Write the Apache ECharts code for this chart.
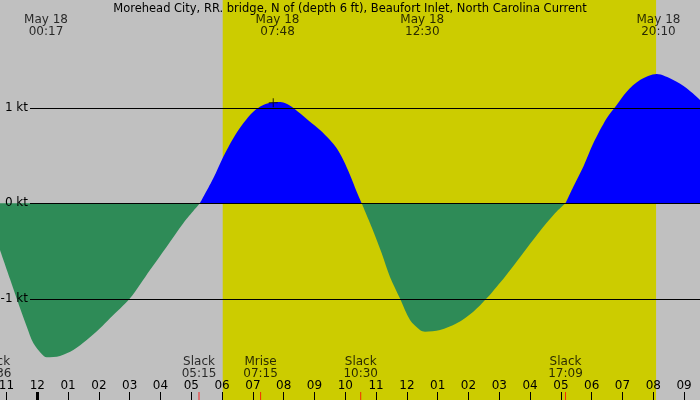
<!DOCTYPE html>
<html>
<head>
<meta charset="utf-8">
<script src="https://cdn.jsdelivr.net/npm/echarts@6/dist/echarts.min.js"></script>
<style>
  html, body { margin: 0; padding: 0; background: #c0c0c0; }
  #chart { width: 700px; height: 400px; }
</style>
</head>
<body>
<div id="chart"></div>
<script>
const titleText = 'Morehead City, RR. bridge, N of (depth 6 ft), Beaufort Inlet, North Carolina Current';

// hours from midnight May 18, current speed in knots (flood +, ebb -)
const hours = [
  -1.211, -0.886, -0.669, -0.562, -0.344, -0.130, 0.143, 0.305, 0.737, 1.169, 1.604,
  2.036, 2.360, 3.010, 3.659, 4.201, 4.740, 5.28,
  5.714, 6.039, 6.364, 6.688, 7.013, 7.338, 7.662, 7.80, 7.987, 8.260, 8.529, 8.854, 9.179,
  9.503, 9.721, 9.935, 10.153, 10.370, 10.532,
  10.857, 11.182, 11.451, 11.776, 12.101, 12.425, 12.588, 13.075, 13.617, 14.156, 14.591,
  14.916, 15.185, 15.727, 16.266, 16.808, 17.15,
  17.403, 17.727, 18.052, 18.487, 18.812, 19.136, 19.568, 20.110, 20.649, 21.084, 21.516
];
const knots = [
  -0.489, -0.793, -0.997, -1.096, -1.290, -1.463, -1.578, -1.613, -1.599, -1.537, -1.432,
  -1.309, -1.204, -0.995, -0.698, -0.454, -0.209, 0,
  0.262, 0.488, 0.681, 0.838, 0.959, 1.029, 1.057, 1.062, 1.056, 1.012, 0.942, 0.854, 0.767,
  0.662, 0.576, 0.453, 0.296, 0.121, 0,
  -0.250, -0.524, -0.772, -0.998, -1.222, -1.327, -1.345, -1.327, -1.257, -1.135, -0.995,
  -0.873, -0.769, -0.541, -0.314, -0.105, 0,
  0.174, 0.383, 0.628, 0.890, 1.029, 1.169, 1.291, 1.354, 1.291, 1.204, 1.082
];

const hourMin = -1.211, hourMax = 21.516;
const knotMin = -2.06, knotMax = 2.129;

const hourTicks = [];
for (let h = -1; h <= 21; h++) hourTicks.push(h);

const maxTimes = [0.283, 7.8, 12.5, 20.167];
const maxLabels = ['00:17', '07:48', '12:30', '20:10'];
const maxDate = 'May 18';

const eventTimes = [-1.4, 5.25, 7.25, 10.5, 17.15];
const eventNames = ['Slack', 'Slack', 'Mrise', 'Slack', 'Slack'];
const eventLabels = ['22:36', '05:15', '07:15', '10:30', '17:09'];

const sunrise = 6.02, sunset = 20.09;
const levels = [1, 0, -1];
const peakMark = [7.66, 1.052];

const font = 'DejaVu Sans';

function hour_label(h) {
    let v = ((h % 12) + 12) % 12;
    if (v === 0) v = 12;
    return v < 10 ? '0' + v : '' + v;
}

function build_option() {
    const flood = hours.map((h, i) => [h, knots[i] >= 0 ? knots[i] : null]);
    const ebb = hours.map((h, i) => [h, knots[i] <= 0 ? knots[i] : null]);

    const baseX = {
        type: 'value', min: hourMin, max: hourMax, gridIndex: 0,
        axisLine: {show: false, onZero: false}, splitLine: {show: false},
        axisTick: {show: false}, axisLabel: {show: false}, z: 6
    };

    return {
        backgroundColor: '#c0c0c0',
        animation: false,
        title: {
            text: titleText, left: 'center', top: -2,
            textStyle: {fontFamily: font, fontSize: 11.5, fontWeight: 'normal', color: '#000'}
        },
        grid: [
            {left: 0, right: 0, top: 0, bottom: 0, outerBoundsMode: 'none', containLabel: false},
            {left: 30, right: 0, top: 0, bottom: 0, outerBoundsMode: 'none', containLabel: false}
        ],
        xAxis: [
            Object.assign({}, baseX, {
                position: 'bottom',
                axisTick: {show: true, inside: true, length: 8, customValues: hourTicks,
                    lineStyle: {color: '#000', width: 1}},
                axisLabel: {show: true, inside: true, margin: 8, customValues: hourTicks,
                    formatter: hour_label, fontFamily: font, fontSize: 12, color: '#000'}
            }),
            Object.assign({}, baseX, {
                position: 'bottom',
                axisTick: {show: true, inside: true, length: 8, customValues: [0],
                    lineStyle: {color: '#000', width: 3}}
            }),
            {type: 'value', gridIndex: 1, show: false, min: hourMin, max: hourMax}
        ],
        yAxis: [
            {type: 'value', gridIndex: 0, show: false, min: knotMin, max: knotMax},
            {type: 'value', gridIndex: 1, show: false, min: knotMin, max: knotMax}
        ],
        series: [
            {
                type: 'line', xAxisIndex: 0, yAxisIndex: 0, data: [], z: 1, silent: true,
                markArea: {
                    silent: true,
                    itemStyle: {color: '#cccc00', opacity: 1},
                    data: [[{xAxis: sunrise}, {xAxis: sunset}]]
                }
            },
            {
                type: 'line', xAxisIndex: 2, yAxisIndex: 1, data: [], z: 2, silent: true,
                markLine: {
                    silent: true, symbol: ['none', 'none'],
                    lineStyle: {color: '#000', width: 1, type: 'solid'},
                    label: {position: 'start', distance: 2, formatter: p => p.value + ' kt',
                        fontFamily: font, fontSize: 12, color: '#000'},
                    data: levels.map(v => ({yAxis: v}))
                }
            },
            {
                type: 'line', xAxisIndex: 0, yAxisIndex: 0, data: flood, z: 3,
                smooth: 0.3, showSymbol: false,
                lineStyle: {width: 0}, areaStyle: {color: '#0000ff', opacity: 1}
            },
            {
                type: 'line', xAxisIndex: 0, yAxisIndex: 0, data: ebb, z: 3,
                smooth: 0.3, showSymbol: false,
                lineStyle: {width: 0}, areaStyle: {color: '#2e8b57', opacity: 1}
            },
            {
                type: 'scatter', xAxisIndex: 0, yAxisIndex: 0, z: 4, clip: false,
                data: [peakMark],
                symbol: 'path://M0,4L9,4L9,5L0,5ZM4,0L5,0L5,9L4,9Z', symbolSize: 9,
                itemStyle: {color: '#000'}
            },
            {
                type: 'scatter', xAxisIndex: 0, yAxisIndex: 0, z: 7, clip: false,
                data: eventTimes.map(t => [t, knotMin]),
                symbol: 'rect', symbolSize: [1, 8], symbolOffset: [0, -4],
                itemStyle: {color: '#ff0000'},
                label: {
                    show: true, position: 'top', distance: 12,
                    formatter: p => eventNames[p.dataIndex] + '\n' + eventLabels[p.dataIndex],
                    fontFamily: font, fontSize: 12, lineHeight: 12, color: '#000'
                }
            },
            {
                type: 'scatter', xAxisIndex: 0, yAxisIndex: 0, z: 7, clip: false,
                data: maxTimes.map(t => [t, knotMax]),
                symbol: 'rect', symbolSize: 1,
                itemStyle: {color: 'rgba(0,0,0,0)'},
                label: {
                    show: true, position: 'bottom', distance: 13,
                    formatter: p => maxDate + '\n' + maxLabels[p.dataIndex],
                    fontFamily: font, fontSize: 12, lineHeight: 12, color: '#000'
                }
            }
        ]
    };
}

let chart = echarts.init(document.getElementById('chart'));
chart.setOption(build_option());
window.addEventListener('resize', function () {
    chart.resize();
});
</script>
</body>
</html>
